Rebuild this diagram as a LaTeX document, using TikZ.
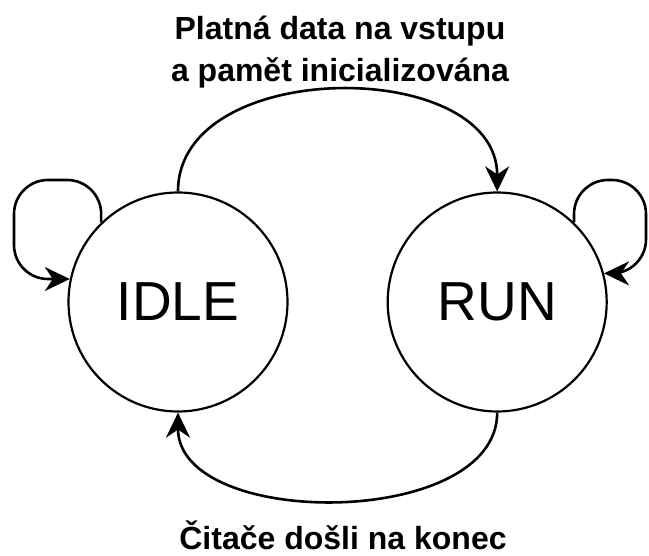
\documentclass[tikz,border=0pt]{standalone}
\usepackage{fontspec}
\setmainfont{Liberation Sans}
\usetikzlibrary{arrows.meta,positioning}

\begin{document}
\begin{tikzpicture}[x=1pt,y=-1pt,
    mode/.style={draw,circle,line width=2.2pt,minimum size=219pt,inner sep=0pt,
        font=\fontsize{55}{55}\selectfont},
    trans/.style={-{Stealth[length=25pt,width=24pt,inset=8pt]},line width=2.6pt},
    loopback/.style={trans,rounded corners=34pt},
    cond/.style={inner sep=0pt,align=center,font=\bfseries\fontsize{32}{42}\selectfont}]

\useasboundingbox (0,0) rectangle (649,556);

\node [mode] (idle) at (178,302) {IDLE};
\node [mode] (run) [right=98pt of idle] {RUN};

% self loops
\coordinate (idleloop) at (14,180);
\coordinate (runloop) at (646,180);
\draw [loopback] (idle.134) |- (idleloop) |- (idle.168);
\draw [loopback] (run.46) |- (runloop) |- (run.15);

% idle -> run and back
\draw [trans] (idle.north) .. controls +(0,-135) and +(0,-135) .. (run.north);
\draw [trans] (run.south) .. controls +(0,117) and +(0,117) .. (idle.south);

\node [cond, anchor=base] (start) at (340,82) {Platná data na vstupu\\a pamět inicializována};
\node [cond, anchor=base] (done) at (343,550) {Čitače došli na konec};

\end{tikzpicture}
\end{document}
